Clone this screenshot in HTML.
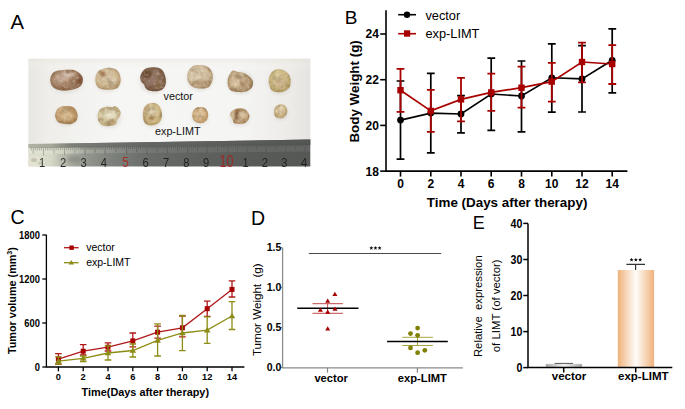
<!DOCTYPE html>
<html><head><meta charset="utf-8"><style>
html,body{margin:0;padding:0;background:#fff;}
svg{display:block;font-family:"Liberation Sans", sans-serif;}
</style></head><body>
<svg width="685" height="409" viewBox="0 0 685 409">
<rect width="685" height="409" fill="#fff"/>
<text x="10.5" y="29.4" font-size="20.3" fill="#000">A</text>
<defs>
<filter id="pb" x="-30%" y="-30%" width="160%" height="160%"><feGaussianBlur stdDeviation="0.55"/></filter>
<filter id="pb2" x="-50%" y="-50%" width="200%" height="200%"><feGaussianBlur stdDeviation="1.1"/></filter>
<filter id="sh" x="-30%" y="-30%" width="160%" height="160%"><feGaussianBlur stdDeviation="1.6"/></filter>
<linearGradient id="paper" x1="0" y1="0" x2="1" y2="0"><stop offset="0" stop-color="#e7e6e2"/><stop offset="0.07" stop-color="#efeeeb"/><stop offset="0.3" stop-color="#f6f6f4"/><stop offset="0.75" stop-color="#f5f5f3"/><stop offset="0.93" stop-color="#edebe8"/><stop offset="1" stop-color="#e5e2df"/></linearGradient>
<linearGradient id="paperv" x1="0" y1="0" x2="0" y2="1"><stop offset="0" stop-color="#e6e3da" stop-opacity="0.5"/><stop offset="0.15" stop-color="#fff" stop-opacity="0"/><stop offset="1" stop-color="#fff" stop-opacity="0"/></linearGradient>
<linearGradient id="rul" x1="0" y1="0" x2="1" y2="0"><stop offset="0" stop-color="#dcdccc"/><stop offset="0.08" stop-color="#d6d8c8"/><stop offset="0.11" stop-color="#c0c2b4"/><stop offset="0.15" stop-color="#a8ab9f"/><stop offset="0.2" stop-color="#94978e"/><stop offset="0.29" stop-color="#7e827c"/><stop offset="0.43" stop-color="#686b68"/><stop offset="0.61" stop-color="#5e615e"/><stop offset="0.82" stop-color="#585a58"/><stop offset="1" stop-color="#565856"/></linearGradient>
<linearGradient id="rulTop" x1="0" y1="0" x2="1" y2="0"><stop offset="0" stop-color="#b0b4a4"/><stop offset="0.08" stop-color="#a4a898"/><stop offset="0.15" stop-color="#7c8078"/><stop offset="0.2" stop-color="#767a74"/><stop offset="0.43" stop-color="#626562"/><stop offset="1" stop-color="#535653"/></linearGradient>
<linearGradient id="tickL" x1="0" y1="0" x2="1" y2="0"><stop offset="0" stop-color="#e4e6d6" stop-opacity="0.8"/><stop offset="0.12" stop-color="#dcdecc" stop-opacity="0.7"/><stop offset="0.22" stop-color="#c8cabc" stop-opacity="0.3"/><stop offset="0.35" stop-color="#fff" stop-opacity="0.08"/><stop offset="1" stop-color="#fff" stop-opacity="0.08"/></linearGradient>
<radialGradient id="tg0" cx="0.45" cy="0.42" r="0.62"><stop offset="0" stop-color="#c6a992"/><stop offset="0.55" stop-color="#ae8e74"/><stop offset="1" stop-color="#8a6447"/></radialGradient>
<clipPath id="tc0"><path d="M55.00,71.50C56.92,70.67 60.17,70.28 63.00,70.00C65.83,69.72 69.50,69.47 72.00,69.80C74.50,70.13 76.25,70.80 78.00,72.00C79.75,73.20 81.73,75.33 82.50,77.00C83.27,78.67 83.02,80.42 82.60,82.00C82.18,83.58 81.60,85.25 80.00,86.50C78.40,87.75 75.67,88.82 73.00,89.50C70.33,90.18 66.67,90.60 64.00,90.60C61.33,90.60 59.00,90.27 57.00,89.50C55.00,88.73 53.12,87.58 52.00,86.00C50.88,84.42 50.38,81.83 50.30,80.00C50.22,78.17 50.72,76.42 51.50,75.00C52.28,73.58 53.08,72.33 55.00,71.50Z"/></clipPath>
<radialGradient id="tg1" cx="0.45" cy="0.42" r="0.62"><stop offset="0" stop-color="#dfcfb1"/><stop offset="0.55" stop-color="#d2bd98"/><stop offset="1" stop-color="#b4976f"/></radialGradient>
<clipPath id="tc1"><path d="M100.00,70.00C101.75,68.98 104.67,68.15 107.00,67.90C109.33,67.65 112.08,67.82 114.00,68.50C115.92,69.18 117.40,70.42 118.50,72.00C119.60,73.58 120.35,76.00 120.60,78.00C120.85,80.00 120.68,82.25 120.00,84.00C119.32,85.75 118.33,87.53 116.50,88.50C114.67,89.47 111.58,89.72 109.00,89.80C106.42,89.88 103.00,89.63 101.00,89.00C99.00,88.37 97.95,87.50 97.00,86.00C96.05,84.50 95.38,82.00 95.30,80.00C95.22,78.00 95.72,75.67 96.50,74.00C97.28,72.33 98.25,71.02 100.00,70.00Z"/></clipPath>
<radialGradient id="tg2" cx="0.45" cy="0.42" r="0.62"><stop offset="0" stop-color="#9e8275"/><stop offset="0.55" stop-color="#8c6e5c"/><stop offset="1" stop-color="#6a4d38"/></radialGradient>
<clipPath id="tc2"><path d="M147.00,68.00C149.08,67.28 152.67,67.03 155.00,67.20C157.33,67.37 159.42,67.87 161.00,69.00C162.58,70.13 163.68,72.17 164.50,74.00C165.32,75.83 165.82,78.00 165.90,80.00C165.98,82.00 165.73,84.33 165.00,86.00C164.27,87.67 163.17,89.12 161.50,90.00C159.83,90.88 157.08,91.22 155.00,91.30C152.92,91.38 150.58,91.05 149.00,90.50C147.42,89.95 146.33,89.00 145.50,88.00C144.67,87.00 144.67,85.50 144.00,84.50C143.33,83.50 142.13,83.25 141.50,82.00C140.87,80.75 140.03,78.75 140.20,77.00C140.37,75.25 141.37,73.00 142.50,71.50C143.63,70.00 144.92,68.72 147.00,68.00Z"/></clipPath>
<radialGradient id="tg3" cx="0.45" cy="0.42" r="0.62"><stop offset="0" stop-color="#e2d3b9"/><stop offset="0.55" stop-color="#d3c0a2"/><stop offset="1" stop-color="#ae916d"/></radialGradient>
<clipPath id="tc3"><path d="M193.00,66.00C194.92,65.00 197.67,64.92 200.00,65.00C202.33,65.08 205.08,65.50 207.00,66.50C208.92,67.50 210.52,69.25 211.50,71.00C212.48,72.75 212.90,75.00 212.90,77.00C212.90,79.00 212.32,81.25 211.50,83.00C210.68,84.75 209.75,86.57 208.00,87.50C206.25,88.43 203.33,88.60 201.00,88.60C198.67,88.60 195.92,88.27 194.00,87.50C192.08,86.73 190.63,85.58 189.50,84.00C188.37,82.42 187.37,80.17 187.20,78.00C187.03,75.83 187.53,73.00 188.50,71.00C189.47,69.00 191.08,67.00 193.00,66.00Z"/></clipPath>
<radialGradient id="tg4" cx="0.45" cy="0.42" r="0.62"><stop offset="0" stop-color="#d8c6a4"/><stop offset="0.55" stop-color="#c8b08c"/><stop offset="1" stop-color="#9c7f5b"/></radialGradient>
<clipPath id="tc4"><path d="M233.00,70.60C234.42,70.18 236.17,71.60 238.00,72.00C239.83,72.40 242.08,72.25 244.00,73.00C245.92,73.75 248.00,75.00 249.50,76.50C251.00,78.00 252.67,80.08 253.00,82.00C253.33,83.92 252.67,86.42 251.50,88.00C250.33,89.58 248.25,90.82 246.00,91.50C243.75,92.18 240.50,92.27 238.00,92.10C235.50,91.93 232.67,91.52 231.00,90.50C229.33,89.48 228.55,87.75 228.00,86.00C227.45,84.25 227.45,81.92 227.70,80.00C227.95,78.08 228.62,76.07 229.50,74.50C230.38,72.93 231.58,71.02 233.00,70.60Z"/></clipPath>
<radialGradient id="tg5" cx="0.45" cy="0.42" r="0.62"><stop offset="0" stop-color="#dacb9e"/><stop offset="0.55" stop-color="#cfbc89"/><stop offset="1" stop-color="#ae9760"/></radialGradient>
<clipPath id="tc5"><path d="M274.00,70.50C275.42,69.72 277.17,69.22 279.00,69.30C280.83,69.38 283.25,69.88 285.00,71.00C286.75,72.12 288.55,74.17 289.50,76.00C290.45,77.83 290.78,80.00 290.70,82.00C290.62,84.00 290.12,86.42 289.00,88.00C287.88,89.58 285.83,90.78 284.00,91.50C282.17,92.22 280.00,92.47 278.00,92.30C276.00,92.13 273.42,91.55 272.00,90.50C270.58,89.45 270.05,87.75 269.50,86.00C268.95,84.25 268.53,82.00 268.70,80.00C268.87,78.00 269.62,75.58 270.50,74.00C271.38,72.42 272.58,71.28 274.00,70.50Z"/></clipPath>
<radialGradient id="tg6" cx="0.45" cy="0.42" r="0.62"><stop offset="0" stop-color="#dbc098"/><stop offset="0.55" stop-color="#cead80"/><stop offset="1" stop-color="#a67e50"/></radialGradient>
<clipPath id="tc6"><path d="M60.00,107.00C61.75,106.25 64.83,106.00 67.00,106.00C69.17,106.00 71.42,106.17 73.00,107.00C74.58,107.83 75.73,109.50 76.50,111.00C77.27,112.50 77.68,114.33 77.60,116.00C77.52,117.67 77.10,119.68 76.00,121.00C74.90,122.32 73.17,123.45 71.00,123.90C68.83,124.35 65.25,124.10 63.00,123.70C60.75,123.30 58.78,122.78 57.50,121.50C56.22,120.22 55.47,117.83 55.30,116.00C55.13,114.17 55.72,112.00 56.50,110.50C57.28,109.00 58.25,107.75 60.00,107.00Z"/></clipPath>
<radialGradient id="tg7" cx="0.45" cy="0.42" r="0.62"><stop offset="0" stop-color="#e6dcc1"/><stop offset="0.55" stop-color="#d8cba4"/><stop offset="1" stop-color="#b8a073"/></radialGradient>
<clipPath id="tc7"><path d="M102.00,108.00C103.50,107.25 106.33,106.58 108.00,106.50C109.67,106.42 110.83,107.58 112.00,107.50C113.17,107.42 114.00,105.92 115.00,106.00C116.00,106.08 117.07,107.00 118.00,108.00C118.93,109.00 120.35,110.50 120.60,112.00C120.85,113.50 120.10,115.67 119.50,117.00C118.90,118.33 117.58,118.83 117.00,120.00C116.42,121.17 117.17,122.98 116.00,124.00C114.83,125.02 112.17,125.85 110.00,126.10C107.83,126.35 104.83,126.18 103.00,125.50C101.17,124.82 99.90,123.58 99.00,122.00C98.10,120.42 97.60,117.83 97.60,116.00C97.60,114.17 98.27,112.33 99.00,111.00C99.73,109.67 100.50,108.75 102.00,108.00Z"/></clipPath>
<radialGradient id="tg8" cx="0.45" cy="0.42" r="0.62"><stop offset="0" stop-color="#e4d4b2"/><stop offset="0.55" stop-color="#d6c293"/><stop offset="1" stop-color="#b69b64"/></radialGradient>
<clipPath id="tc8"><path d="M147.00,104.50C148.33,103.68 150.33,103.18 152.00,103.10C153.67,103.02 155.58,103.18 157.00,104.00C158.42,104.82 159.68,106.33 160.50,108.00C161.32,109.67 161.82,112.00 161.90,114.00C161.98,116.00 161.82,118.33 161.00,120.00C160.18,121.67 158.67,123.13 157.00,124.00C155.33,124.87 152.83,125.20 151.00,125.20C149.17,125.20 147.25,124.87 146.00,124.00C144.75,123.13 144.02,121.83 143.50,120.00C142.98,118.17 142.82,115.00 142.90,113.00C142.98,111.00 143.32,109.42 144.00,108.00C144.68,106.58 145.67,105.32 147.00,104.50Z"/></clipPath>
<radialGradient id="tg9" cx="0.45" cy="0.42" r="0.62"><stop offset="0" stop-color="#e2c9a3"/><stop offset="0.55" stop-color="#d6b68a"/><stop offset="1" stop-color="#b68f5d"/></radialGradient>
<clipPath id="tc9"><path d="M196.00,108.00C197.08,107.43 198.50,107.07 200.00,107.10C201.50,107.13 203.72,107.38 205.00,108.20C206.28,109.02 207.18,110.70 207.70,112.00C208.22,113.30 208.30,114.58 208.10,116.00C207.90,117.42 207.52,119.33 206.50,120.50C205.48,121.67 203.58,122.67 202.00,123.00C200.42,123.33 198.42,123.00 197.00,122.50C195.58,122.00 194.30,121.25 193.50,120.00C192.70,118.75 192.20,116.58 192.20,115.00C192.20,113.42 192.87,111.67 193.50,110.50C194.13,109.33 194.92,108.57 196.00,108.00Z"/></clipPath>
<radialGradient id="tg10" cx="0.45" cy="0.42" r="0.62"><stop offset="0" stop-color="#dcc8a8"/><stop offset="0.55" stop-color="#d0b994"/><stop offset="1" stop-color="#a87e52"/></radialGradient>
<clipPath id="tc10"><path d="M236.00,109.00C237.58,108.45 239.33,108.03 241.00,108.20C242.67,108.37 244.63,108.87 246.00,110.00C247.37,111.13 248.78,113.42 249.20,115.00C249.62,116.58 249.20,118.17 248.50,119.50C247.80,120.83 246.58,122.27 245.00,123.00C243.42,123.73 240.83,123.90 239.00,123.90C237.17,123.90 235.08,123.82 234.00,123.00C232.92,122.18 233.13,120.33 232.50,119.00C231.87,117.67 230.37,116.25 230.20,115.00C230.03,113.75 230.53,112.50 231.50,111.50C232.47,110.50 234.42,109.55 236.00,109.00Z"/></clipPath>
<radialGradient id="tg11" cx="0.45" cy="0.42" r="0.62"><stop offset="0" stop-color="#e0ceac"/><stop offset="0.55" stop-color="#d6c197"/><stop offset="1" stop-color="#b69c6d"/></radialGradient>
<clipPath id="tc11"><path d="M277.00,105.50C278.00,104.98 279.67,104.40 281.00,104.40C282.33,104.40 283.97,104.57 285.00,105.50C286.03,106.43 286.95,108.50 287.20,110.00C287.45,111.50 287.20,113.17 286.50,114.50C285.80,115.83 284.42,117.40 283.00,118.00C281.58,118.60 279.33,118.43 278.00,118.10C276.67,117.77 275.67,117.10 275.00,116.00C274.33,114.90 274.00,112.92 274.00,111.50C274.00,110.08 274.50,108.50 275.00,107.50C275.50,106.50 276.00,106.02 277.00,105.50Z"/></clipPath>
</defs>
<rect x="28.4" y="58.7" width="281.9" height="86" fill="url(#paper)"/>
<rect x="28.4" y="58.7" width="281.9" height="86" fill="url(#paperv)"/>
<ellipse cx="66.4" cy="81.7" rx="17.1" ry="11.4" fill="#c8c4bc" opacity="0.35" filter="url(#sh)"/>
<ellipse cx="107.9" cy="80.3" rx="13.6" ry="11.9" fill="#c8c4bc" opacity="0.35" filter="url(#sh)"/>
<ellipse cx="153.1" cy="80.8" rx="13.9" ry="13.0" fill="#c8c4bc" opacity="0.35" filter="url(#sh)"/>
<ellipse cx="200.1" cy="78.3" rx="13.9" ry="12.8" fill="#c8c4bc" opacity="0.35" filter="url(#sh)"/>
<ellipse cx="240.3" cy="82.8" rx="13.7" ry="11.8" fill="#c8c4bc" opacity="0.35" filter="url(#sh)"/>
<ellipse cx="279.7" cy="82.3" rx="12.0" ry="12.5" fill="#c8c4bc" opacity="0.35" filter="url(#sh)"/>
<ellipse cx="66.4" cy="116.5" rx="12.1" ry="10.0" fill="#c8c4bc" opacity="0.35" filter="url(#sh)"/>
<ellipse cx="109.1" cy="117.5" rx="12.5" ry="11.0" fill="#c8c4bc" opacity="0.35" filter="url(#sh)"/>
<ellipse cx="152.4" cy="115.7" rx="10.5" ry="12.1" fill="#c8c4bc" opacity="0.35" filter="url(#sh)"/>
<ellipse cx="200.1" cy="116.5" rx="9.0" ry="9.0" fill="#c8c4bc" opacity="0.35" filter="url(#sh)"/>
<ellipse cx="239.7" cy="117.6" rx="10.5" ry="8.9" fill="#c8c4bc" opacity="0.35" filter="url(#sh)"/>
<ellipse cx="280.6" cy="112.8" rx="7.6" ry="7.8" fill="#c8c4bc" opacity="0.35" filter="url(#sh)"/>
<g filter="url(#pb)">
<path d="M55.00,71.50C56.92,70.67 60.17,70.28 63.00,70.00C65.83,69.72 69.50,69.47 72.00,69.80C74.50,70.13 76.25,70.80 78.00,72.00C79.75,73.20 81.73,75.33 82.50,77.00C83.27,78.67 83.02,80.42 82.60,82.00C82.18,83.58 81.60,85.25 80.00,86.50C78.40,87.75 75.67,88.82 73.00,89.50C70.33,90.18 66.67,90.60 64.00,90.60C61.33,90.60 59.00,90.27 57.00,89.50C55.00,88.73 53.12,87.58 52.00,86.00C50.88,84.42 50.38,81.83 50.30,80.00C50.22,78.17 50.72,76.42 51.50,75.00C52.28,73.58 53.08,72.33 55.00,71.50Z" fill="url(#tg0)"/>
<g clip-path="url(#tc0)">
<ellipse cx="61.4" cy="77.2" rx="6" ry="4" fill="#cdb3a1" opacity="0.7" filter="url(#pb2)"/>
<ellipse cx="71.4" cy="74.2" rx="3" ry="1.5" fill="#e4d1ca" opacity="0.7" filter="url(#pb2)"/>
<ellipse cx="78.4" cy="81.2" rx="3" ry="3.5" fill="#7a492e" opacity="0.55" filter="url(#pb2)"/>
<ellipse cx="62.4" cy="87.2" rx="5" ry="2" fill="#946748" opacity="0.5" filter="url(#pb2)"/>
<ellipse cx="69.4" cy="82.2" rx="4" ry="3" fill="#a87e63" opacity="0.4" filter="url(#pb2)"/>
<ellipse cx="65.4" cy="74.2" rx="2.5" ry="1.2" fill="#f4ece8" opacity="0.8" filter="url(#pb2)"/>
<ellipse cx="68.4" cy="75.2" rx="1.2" ry="1.5" fill="#f4ece8" opacity="0.7" filter="url(#pb2)"/>
<ellipse cx="79.4" cy="78.2" rx="2" ry="4" fill="#6a3e26" opacity="0.6" filter="url(#pb2)"/>
</g></g>
<g filter="url(#pb)">
<path d="M100.00,70.00C101.75,68.98 104.67,68.15 107.00,67.90C109.33,67.65 112.08,67.82 114.00,68.50C115.92,69.18 117.40,70.42 118.50,72.00C119.60,73.58 120.35,76.00 120.60,78.00C120.85,80.00 120.68,82.25 120.00,84.00C119.32,85.75 118.33,87.53 116.50,88.50C114.67,89.47 111.58,89.72 109.00,89.80C106.42,89.88 103.00,89.63 101.00,89.00C99.00,88.37 97.95,87.50 97.00,86.00C96.05,84.50 95.38,82.00 95.30,80.00C95.22,78.00 95.72,75.67 96.50,74.00C97.28,72.33 98.25,71.02 100.00,70.00Z" fill="url(#tg1)"/>
<g clip-path="url(#tc1)">
<ellipse cx="102.9" cy="73.8" rx="3" ry="2.5" fill="#a86a45" opacity="0.65" filter="url(#pb2)"/>
<ellipse cx="111.9" cy="80.8" rx="5" ry="4" fill="#e6d9c3" opacity="0.5" filter="url(#pb2)"/>
</g></g>
<g filter="url(#pb)">
<path d="M147.00,68.00C149.08,67.28 152.67,67.03 155.00,67.20C157.33,67.37 159.42,67.87 161.00,69.00C162.58,70.13 163.68,72.17 164.50,74.00C165.32,75.83 165.82,78.00 165.90,80.00C165.98,82.00 165.73,84.33 165.00,86.00C164.27,87.67 163.17,89.12 161.50,90.00C159.83,90.88 157.08,91.22 155.00,91.30C152.92,91.38 150.58,91.05 149.00,90.50C147.42,89.95 146.33,89.00 145.50,88.00C144.67,87.00 144.67,85.50 144.00,84.50C143.33,83.50 142.13,83.25 141.50,82.00C140.87,80.75 140.03,78.75 140.20,77.00C140.37,75.25 141.37,73.00 142.50,71.50C143.63,70.00 144.92,68.72 147.00,68.00Z" fill="url(#tg2)"/>
<g clip-path="url(#tc2)">
<ellipse cx="147.1" cy="74.2" rx="5" ry="4" fill="#5e3e26" opacity="0.75" filter="url(#pb2)"/>
<ellipse cx="159.1" cy="84.2" rx="5" ry="5" fill="#aa8c6e" opacity="0.55" filter="url(#pb2)"/>
<ellipse cx="152.1" cy="87.2" rx="3" ry="2" fill="#7a5842" opacity="0.5" filter="url(#pb2)"/>
</g></g>
<g filter="url(#pb)">
<path d="M193.00,66.00C194.92,65.00 197.67,64.92 200.00,65.00C202.33,65.08 205.08,65.50 207.00,66.50C208.92,67.50 210.52,69.25 211.50,71.00C212.48,72.75 212.90,75.00 212.90,77.00C212.90,79.00 212.32,81.25 211.50,83.00C210.68,84.75 209.75,86.57 208.00,87.50C206.25,88.43 203.33,88.60 201.00,88.60C198.67,88.60 195.92,88.27 194.00,87.50C192.08,86.73 190.63,85.58 189.50,84.00C188.37,82.42 187.37,80.17 187.20,78.00C187.03,75.83 187.53,73.00 188.50,71.00C189.47,69.00 191.08,67.00 193.00,66.00Z" fill="url(#tg3)"/>
<g clip-path="url(#tc3)">
<ellipse cx="201.1" cy="82.8" rx="8" ry="3" fill="#b08b6b" opacity="0.5" filter="url(#pb2)"/>
<ellipse cx="197.1" cy="73.8" rx="6" ry="4" fill="#e0cfb7" opacity="0.5" filter="url(#pb2)"/>
</g></g>
<g filter="url(#pb)">
<path d="M233.00,70.60C234.42,70.18 236.17,71.60 238.00,72.00C239.83,72.40 242.08,72.25 244.00,73.00C245.92,73.75 248.00,75.00 249.50,76.50C251.00,78.00 252.67,80.08 253.00,82.00C253.33,83.92 252.67,86.42 251.50,88.00C250.33,89.58 248.25,90.82 246.00,91.50C243.75,92.18 240.50,92.27 238.00,92.10C235.50,91.93 232.67,91.52 231.00,90.50C229.33,89.48 228.55,87.75 228.00,86.00C227.45,84.25 227.45,81.92 227.70,80.00C227.95,78.08 228.62,76.07 229.50,74.50C230.38,72.93 231.58,71.02 233.00,70.60Z" fill="url(#tg4)"/>
<g clip-path="url(#tc4)">
<ellipse cx="237.3" cy="81.3" rx="4" ry="5" fill="#d8c0a4" opacity="0.5" filter="url(#pb2)"/>
<ellipse cx="244.3" cy="84.3" rx="4" ry="3" fill="#a47f5b" opacity="0.45" filter="url(#pb2)"/>
<ellipse cx="234.3" cy="85.3" rx="4" ry="3" fill="#e0d5ac" opacity="0.5" filter="url(#pb2)"/>
<ellipse cx="241.3" cy="77.3" rx="2" ry="1.5" fill="#6a4028" opacity="0.5" filter="url(#pb2)"/>
<ellipse cx="247.3" cy="80.3" rx="1.5" ry="1.5" fill="#6a4028" opacity="0.5" filter="url(#pb2)"/>
<ellipse cx="237.3" cy="75.3" rx="2" ry="1.5" fill="#7a4a30" opacity="0.45" filter="url(#pb2)"/>
</g></g>
<g filter="url(#pb)">
<path d="M274.00,70.50C275.42,69.72 277.17,69.22 279.00,69.30C280.83,69.38 283.25,69.88 285.00,71.00C286.75,72.12 288.55,74.17 289.50,76.00C290.45,77.83 290.78,80.00 290.70,82.00C290.62,84.00 290.12,86.42 289.00,88.00C287.88,89.58 285.83,90.78 284.00,91.50C282.17,92.22 280.00,92.47 278.00,92.30C276.00,92.13 273.42,91.55 272.00,90.50C270.58,89.45 270.05,87.75 269.50,86.00C268.95,84.25 268.53,82.00 268.70,80.00C268.87,78.00 269.62,75.58 270.50,74.00C271.38,72.42 272.58,71.28 274.00,70.50Z" fill="url(#tg5)"/>
<g clip-path="url(#tc5)">
<ellipse cx="280.7" cy="83.8" rx="5" ry="4" fill="#c6a687" opacity="0.6" filter="url(#pb2)"/>
</g></g>
<g filter="url(#pb)">
<path d="M60.00,107.00C61.75,106.25 64.83,106.00 67.00,106.00C69.17,106.00 71.42,106.17 73.00,107.00C74.58,107.83 75.73,109.50 76.50,111.00C77.27,112.50 77.68,114.33 77.60,116.00C77.52,117.67 77.10,119.68 76.00,121.00C74.90,122.32 73.17,123.45 71.00,123.90C68.83,124.35 65.25,124.10 63.00,123.70C60.75,123.30 58.78,122.78 57.50,121.50C56.22,120.22 55.47,117.83 55.30,116.00C55.13,114.17 55.72,112.00 56.50,110.50C57.28,109.00 58.25,107.75 60.00,107.00Z" fill="url(#tg6)"/>
<g clip-path="url(#tc6)">
<ellipse cx="61.4" cy="113.0" rx="3" ry="1.5" fill="#9a6739" opacity="0.4" filter="url(#pb2)"/>
<ellipse cx="72.4" cy="111.0" rx="2" ry="3" fill="#9a6739" opacity="0.45" filter="url(#pb2)"/>
</g></g>
<g filter="url(#pb)">
<path d="M102.00,108.00C103.50,107.25 106.33,106.58 108.00,106.50C109.67,106.42 110.83,107.58 112.00,107.50C113.17,107.42 114.00,105.92 115.00,106.00C116.00,106.08 117.07,107.00 118.00,108.00C118.93,109.00 120.35,110.50 120.60,112.00C120.85,113.50 120.10,115.67 119.50,117.00C118.90,118.33 117.58,118.83 117.00,120.00C116.42,121.17 117.17,122.98 116.00,124.00C114.83,125.02 112.17,125.85 110.00,126.10C107.83,126.35 104.83,126.18 103.00,125.50C101.17,124.82 99.90,123.58 99.00,122.00C98.10,120.42 97.60,117.83 97.60,116.00C97.60,114.17 98.27,112.33 99.00,111.00C99.73,109.67 100.50,108.75 102.00,108.00Z" fill="url(#tg7)"/>
<g clip-path="url(#tc7)">
<ellipse cx="111.1" cy="115.0" rx="5" ry="4" fill="#eae5ce" opacity="0.6" filter="url(#pb2)"/>
<ellipse cx="111.1" cy="122.0" rx="4" ry="2" fill="#b08e62" opacity="0.5" filter="url(#pb2)"/>
</g></g>
<g filter="url(#pb)">
<path d="M147.00,104.50C148.33,103.68 150.33,103.18 152.00,103.10C153.67,103.02 155.58,103.18 157.00,104.00C158.42,104.82 159.68,106.33 160.50,108.00C161.32,109.67 161.82,112.00 161.90,114.00C161.98,116.00 161.82,118.33 161.00,120.00C160.18,121.67 158.67,123.13 157.00,124.00C155.33,124.87 152.83,125.20 151.00,125.20C149.17,125.20 147.25,124.87 146.00,124.00C144.75,123.13 144.02,121.83 143.50,120.00C142.98,118.17 142.82,115.00 142.90,113.00C142.98,111.00 143.32,109.42 144.00,108.00C144.68,106.58 145.67,105.32 147.00,104.50Z" fill="url(#tg8)"/>
<g clip-path="url(#tc8)">
<ellipse cx="151.4" cy="118.2" rx="3" ry="2.5" fill="#9c7043" opacity="0.7" filter="url(#pb2)"/>
<ellipse cx="152.4" cy="110.2" rx="4" ry="3" fill="#e8ddc3" opacity="0.5" filter="url(#pb2)"/>
</g></g>
<g filter="url(#pb)">
<path d="M196.00,108.00C197.08,107.43 198.50,107.07 200.00,107.10C201.50,107.13 203.72,107.38 205.00,108.20C206.28,109.02 207.18,110.70 207.70,112.00C208.22,113.30 208.30,114.58 208.10,116.00C207.90,117.42 207.52,119.33 206.50,120.50C205.48,121.67 203.58,122.67 202.00,123.00C200.42,123.33 198.42,123.00 197.00,122.50C195.58,122.00 194.30,121.25 193.50,120.00C192.70,118.75 192.20,116.58 192.20,115.00C192.20,113.42 192.87,111.67 193.50,110.50C194.13,109.33 194.92,108.57 196.00,108.00Z" fill="url(#tg9)"/>
<g clip-path="url(#tc9)">
</g></g>
<g filter="url(#pb)">
<path d="M236.00,109.00C237.58,108.45 239.33,108.03 241.00,108.20C242.67,108.37 244.63,108.87 246.00,110.00C247.37,111.13 248.78,113.42 249.20,115.00C249.62,116.58 249.20,118.17 248.50,119.50C247.80,120.83 246.58,122.27 245.00,123.00C243.42,123.73 240.83,123.90 239.00,123.90C237.17,123.90 235.08,123.82 234.00,123.00C232.92,122.18 233.13,120.33 232.50,119.00C231.87,117.67 230.37,116.25 230.20,115.00C230.03,113.75 230.53,112.50 231.50,111.50C232.47,110.50 234.42,109.55 236.00,109.00Z" fill="url(#tg10)"/>
<g clip-path="url(#tc10)">
<ellipse cx="236.7" cy="115.1" rx="1.8" ry="5" fill="#6a3d1a" opacity="0.8" filter="url(#pb2)"/>
<ellipse cx="238.7" cy="110.1" rx="4" ry="1.5" fill="#8a5729" opacity="0.6" filter="url(#pb2)"/>
</g></g>
<g filter="url(#pb)">
<path d="M277.00,105.50C278.00,104.98 279.67,104.40 281.00,104.40C282.33,104.40 283.97,104.57 285.00,105.50C286.03,106.43 286.95,108.50 287.20,110.00C287.45,111.50 287.20,113.17 286.50,114.50C285.80,115.83 284.42,117.40 283.00,118.00C281.58,118.60 279.33,118.43 278.00,118.10C276.67,117.77 275.67,117.10 275.00,116.00C274.33,114.90 274.00,112.92 274.00,111.50C274.00,110.08 274.50,108.50 275.00,107.50C275.50,106.50 276.00,106.02 277.00,105.50Z" fill="url(#tg11)"/>
<g clip-path="url(#tc11)">
</g></g>
<defs><clipPath id="allT"><path d="M55.00,71.50C56.92,70.67 60.17,70.28 63.00,70.00C65.83,69.72 69.50,69.47 72.00,69.80C74.50,70.13 76.25,70.80 78.00,72.00C79.75,73.20 81.73,75.33 82.50,77.00C83.27,78.67 83.02,80.42 82.60,82.00C82.18,83.58 81.60,85.25 80.00,86.50C78.40,87.75 75.67,88.82 73.00,89.50C70.33,90.18 66.67,90.60 64.00,90.60C61.33,90.60 59.00,90.27 57.00,89.50C55.00,88.73 53.12,87.58 52.00,86.00C50.88,84.42 50.38,81.83 50.30,80.00C50.22,78.17 50.72,76.42 51.50,75.00C52.28,73.58 53.08,72.33 55.00,71.50Z"/><path d="M100.00,70.00C101.75,68.98 104.67,68.15 107.00,67.90C109.33,67.65 112.08,67.82 114.00,68.50C115.92,69.18 117.40,70.42 118.50,72.00C119.60,73.58 120.35,76.00 120.60,78.00C120.85,80.00 120.68,82.25 120.00,84.00C119.32,85.75 118.33,87.53 116.50,88.50C114.67,89.47 111.58,89.72 109.00,89.80C106.42,89.88 103.00,89.63 101.00,89.00C99.00,88.37 97.95,87.50 97.00,86.00C96.05,84.50 95.38,82.00 95.30,80.00C95.22,78.00 95.72,75.67 96.50,74.00C97.28,72.33 98.25,71.02 100.00,70.00Z"/><path d="M147.00,68.00C149.08,67.28 152.67,67.03 155.00,67.20C157.33,67.37 159.42,67.87 161.00,69.00C162.58,70.13 163.68,72.17 164.50,74.00C165.32,75.83 165.82,78.00 165.90,80.00C165.98,82.00 165.73,84.33 165.00,86.00C164.27,87.67 163.17,89.12 161.50,90.00C159.83,90.88 157.08,91.22 155.00,91.30C152.92,91.38 150.58,91.05 149.00,90.50C147.42,89.95 146.33,89.00 145.50,88.00C144.67,87.00 144.67,85.50 144.00,84.50C143.33,83.50 142.13,83.25 141.50,82.00C140.87,80.75 140.03,78.75 140.20,77.00C140.37,75.25 141.37,73.00 142.50,71.50C143.63,70.00 144.92,68.72 147.00,68.00Z"/><path d="M193.00,66.00C194.92,65.00 197.67,64.92 200.00,65.00C202.33,65.08 205.08,65.50 207.00,66.50C208.92,67.50 210.52,69.25 211.50,71.00C212.48,72.75 212.90,75.00 212.90,77.00C212.90,79.00 212.32,81.25 211.50,83.00C210.68,84.75 209.75,86.57 208.00,87.50C206.25,88.43 203.33,88.60 201.00,88.60C198.67,88.60 195.92,88.27 194.00,87.50C192.08,86.73 190.63,85.58 189.50,84.00C188.37,82.42 187.37,80.17 187.20,78.00C187.03,75.83 187.53,73.00 188.50,71.00C189.47,69.00 191.08,67.00 193.00,66.00Z"/><path d="M233.00,70.60C234.42,70.18 236.17,71.60 238.00,72.00C239.83,72.40 242.08,72.25 244.00,73.00C245.92,73.75 248.00,75.00 249.50,76.50C251.00,78.00 252.67,80.08 253.00,82.00C253.33,83.92 252.67,86.42 251.50,88.00C250.33,89.58 248.25,90.82 246.00,91.50C243.75,92.18 240.50,92.27 238.00,92.10C235.50,91.93 232.67,91.52 231.00,90.50C229.33,89.48 228.55,87.75 228.00,86.00C227.45,84.25 227.45,81.92 227.70,80.00C227.95,78.08 228.62,76.07 229.50,74.50C230.38,72.93 231.58,71.02 233.00,70.60Z"/><path d="M274.00,70.50C275.42,69.72 277.17,69.22 279.00,69.30C280.83,69.38 283.25,69.88 285.00,71.00C286.75,72.12 288.55,74.17 289.50,76.00C290.45,77.83 290.78,80.00 290.70,82.00C290.62,84.00 290.12,86.42 289.00,88.00C287.88,89.58 285.83,90.78 284.00,91.50C282.17,92.22 280.00,92.47 278.00,92.30C276.00,92.13 273.42,91.55 272.00,90.50C270.58,89.45 270.05,87.75 269.50,86.00C268.95,84.25 268.53,82.00 268.70,80.00C268.87,78.00 269.62,75.58 270.50,74.00C271.38,72.42 272.58,71.28 274.00,70.50Z"/><path d="M60.00,107.00C61.75,106.25 64.83,106.00 67.00,106.00C69.17,106.00 71.42,106.17 73.00,107.00C74.58,107.83 75.73,109.50 76.50,111.00C77.27,112.50 77.68,114.33 77.60,116.00C77.52,117.67 77.10,119.68 76.00,121.00C74.90,122.32 73.17,123.45 71.00,123.90C68.83,124.35 65.25,124.10 63.00,123.70C60.75,123.30 58.78,122.78 57.50,121.50C56.22,120.22 55.47,117.83 55.30,116.00C55.13,114.17 55.72,112.00 56.50,110.50C57.28,109.00 58.25,107.75 60.00,107.00Z"/><path d="M102.00,108.00C103.50,107.25 106.33,106.58 108.00,106.50C109.67,106.42 110.83,107.58 112.00,107.50C113.17,107.42 114.00,105.92 115.00,106.00C116.00,106.08 117.07,107.00 118.00,108.00C118.93,109.00 120.35,110.50 120.60,112.00C120.85,113.50 120.10,115.67 119.50,117.00C118.90,118.33 117.58,118.83 117.00,120.00C116.42,121.17 117.17,122.98 116.00,124.00C114.83,125.02 112.17,125.85 110.00,126.10C107.83,126.35 104.83,126.18 103.00,125.50C101.17,124.82 99.90,123.58 99.00,122.00C98.10,120.42 97.60,117.83 97.60,116.00C97.60,114.17 98.27,112.33 99.00,111.00C99.73,109.67 100.50,108.75 102.00,108.00Z"/><path d="M147.00,104.50C148.33,103.68 150.33,103.18 152.00,103.10C153.67,103.02 155.58,103.18 157.00,104.00C158.42,104.82 159.68,106.33 160.50,108.00C161.32,109.67 161.82,112.00 161.90,114.00C161.98,116.00 161.82,118.33 161.00,120.00C160.18,121.67 158.67,123.13 157.00,124.00C155.33,124.87 152.83,125.20 151.00,125.20C149.17,125.20 147.25,124.87 146.00,124.00C144.75,123.13 144.02,121.83 143.50,120.00C142.98,118.17 142.82,115.00 142.90,113.00C142.98,111.00 143.32,109.42 144.00,108.00C144.68,106.58 145.67,105.32 147.00,104.50Z"/><path d="M196.00,108.00C197.08,107.43 198.50,107.07 200.00,107.10C201.50,107.13 203.72,107.38 205.00,108.20C206.28,109.02 207.18,110.70 207.70,112.00C208.22,113.30 208.30,114.58 208.10,116.00C207.90,117.42 207.52,119.33 206.50,120.50C205.48,121.67 203.58,122.67 202.00,123.00C200.42,123.33 198.42,123.00 197.00,122.50C195.58,122.00 194.30,121.25 193.50,120.00C192.70,118.75 192.20,116.58 192.20,115.00C192.20,113.42 192.87,111.67 193.50,110.50C194.13,109.33 194.92,108.57 196.00,108.00Z"/><path d="M236.00,109.00C237.58,108.45 239.33,108.03 241.00,108.20C242.67,108.37 244.63,108.87 246.00,110.00C247.37,111.13 248.78,113.42 249.20,115.00C249.62,116.58 249.20,118.17 248.50,119.50C247.80,120.83 246.58,122.27 245.00,123.00C243.42,123.73 240.83,123.90 239.00,123.90C237.17,123.90 235.08,123.82 234.00,123.00C232.92,122.18 233.13,120.33 232.50,119.00C231.87,117.67 230.37,116.25 230.20,115.00C230.03,113.75 230.53,112.50 231.50,111.50C232.47,110.50 234.42,109.55 236.00,109.00Z"/><path d="M277.00,105.50C278.00,104.98 279.67,104.40 281.00,104.40C282.33,104.40 283.97,104.57 285.00,105.50C286.03,106.43 286.95,108.50 287.20,110.00C287.45,111.50 287.20,113.17 286.50,114.50C285.80,115.83 284.42,117.40 283.00,118.00C281.58,118.60 279.33,118.43 278.00,118.10C276.67,117.77 275.67,117.10 275.00,116.00C274.33,114.90 274.00,112.92 274.00,111.50C274.00,110.08 274.50,108.50 275.00,107.50C275.50,106.50 276.00,106.02 277.00,105.50Z"/></clipPath>
<filter id="nz" x="0" y="0" width="100%" height="100%" color-interpolation-filters="sRGB"><feTurbulence type="fractalNoise" baseFrequency="0.16" numOctaves="2" seed="7"/><feColorMatrix type="matrix" values="0 0 0 0 0.40  0 0 0 0 0.29  0 0 0 0 0.14  2.1 0 0 0 -0.9"/><feGaussianBlur stdDeviation="0.6"/></filter>
<filter id="nz2" x="0" y="0" width="100%" height="100%" color-interpolation-filters="sRGB"><feTurbulence type="fractalNoise" baseFrequency="0.3" numOctaves="2" seed="21"/><feColorMatrix type="matrix" values="0 0 0 0 1  0 0 0 0 0.97  0 0 0 0 0.92  2.4 0 0 0 -1.35"/><feGaussianBlur stdDeviation="0.5"/></filter></defs>
<g clip-path="url(#allT)"><rect x="28" y="58" width="283" height="72" filter="url(#nz)" opacity="0.5"/><rect x="28" y="58" width="283" height="72" filter="url(#nz2)" opacity="0.5"/></g>
<path d="M28.4,143.9 L310.3,139.54 L310.3,166.6 L28.4,166.6 Z" fill="url(#rul)"/>
<path d="M28.4,143.9 L310.3,139.54 L310.3,145.0 L28.4,148.2 Z" fill="url(#rulTop)"/>
<path d="M28.4,148.2 L310.3,145.0 L310.3,151.5 L28.4,154 Z" fill="url(#tickL)"/>
<ellipse cx="36" cy="161" rx="8" ry="6" fill="#e8e6d6" opacity="0.7" filter="url(#pb2)"/>
<ellipse cx="34" cy="160" rx="3" ry="2" fill="#a8a890" opacity="0.5" filter="url(#pb)"/>
<ellipse cx="40" cy="163" rx="2.5" ry="1.5" fill="#b0b098" opacity="0.5" filter="url(#pb)"/>
<ellipse cx="74" cy="159.5" rx="7" ry="3.5" fill="#7a7d74" opacity="0.45" filter="url(#sh)"/>
<path d="M31.20,147.66v3 M33.25,147.62v6 M35.30,147.59v3 M37.35,147.56v3 M39.40,147.53v3 M41.45,147.50v3 M43.50,147.47v8 M45.60,147.43v3 M47.70,147.40v3 M49.80,147.37v3 M51.90,147.34v3 M54.00,147.30v6 M56.10,147.27v3 M58.20,147.24v3 M60.30,147.21v3 M62.40,147.17v3 M64.50,147.14v8 M66.55,147.11v3 M68.60,147.08v3 M70.65,147.05v3 M72.70,147.01v3 M74.75,146.98v6 M76.80,146.95v3 M78.85,146.92v3" stroke="#70746a" stroke-width="0.6" opacity="0.8"/>
<path d="M80.90,146.89v3 M82.95,146.86v3 M85.00,146.82v8 M87.01,146.79v3 M89.02,146.76v3 M91.03,146.73v3 M93.04,146.70v3 M95.05,146.67v6 M97.06,146.64v3 M99.07,146.61v3 M101.08,146.58v3 M103.09,146.54v3 M105.10,146.51v8 M107.25,146.48v3 M109.40,146.45v3 M111.55,146.41v3 M113.70,146.38v3 M115.85,146.35v6 M118.00,146.31v3 M120.15,146.28v3 M122.30,146.25v3 M124.45,146.21v3 M126.60,146.18v8 M128.62,146.15v3 M130.64,146.12v3 M132.66,146.09v3 M134.68,146.06v3 M136.70,146.02v6 M138.72,145.99v3 M140.74,145.96v3 M142.76,145.93v3 M144.78,145.90v3 M146.80,145.87v8 M148.86,145.84v3 M150.92,145.81v3 M152.98,145.77v3 M155.04,145.74v3 M157.10,145.71v6 M159.16,145.68v3 M161.22,145.65v3 M163.28,145.61v3 M165.34,145.58v3 M167.40,145.55v8 M169.43,145.52v3 M171.46,145.49v3 M173.49,145.46v3 M175.52,145.42v3 M177.55,145.39v6 M179.58,145.36v3 M181.61,145.33v3 M183.64,145.30v3 M185.67,145.27v3 M187.70,145.24v8 M189.66,145.21v3 M191.62,145.18v3 M193.58,145.15v3 M195.54,145.11v3 M197.50,145.08v6 M199.46,145.05v3 M201.42,145.02v3 M203.38,144.99v3 M205.34,144.96v3 M207.30,144.93v8 M209.35,144.90v3 M211.40,144.87v3 M213.45,144.84v3 M215.50,144.81v3 M217.55,144.77v6 M219.60,144.74v3 M221.65,144.71v3 M223.70,144.68v3 M225.75,144.65v3 M227.80,144.62v8 M229.72,144.59v3 M231.64,144.56v3 M233.56,144.53v3 M235.48,144.50v3 M237.40,144.47v6 M239.32,144.44v3 M241.24,144.41v3 M243.16,144.38v3 M245.08,144.35v3 M247.00,144.32v8 M248.91,144.29v3 M250.82,144.26v3 M252.73,144.23v3 M254.64,144.20v3 M256.55,144.17v6 M258.46,144.14v3 M260.37,144.11v3 M262.28,144.08v3 M264.19,144.05v3 M266.10,144.02v8 M268.05,143.99v3 M270.00,143.96v3 M271.95,143.93v3 M273.90,143.90v3 M275.85,143.87v6 M277.80,143.84v3 M279.75,143.81v3 M281.70,143.78v3 M283.65,143.75v3 M285.60,143.72v8 M287.57,143.69v3 M289.54,143.66v3 M291.51,143.63v3 M293.48,143.60v3 M295.45,143.57v6 M297.42,143.54v3 M299.39,143.51v3 M301.36,143.48v3 M303.33,143.45v3 M305.30,143.42v8 M307.27,143.39v3 M309.24,143.36v3" stroke="#4a4d4a" stroke-width="0.6" opacity="0.8"/>
<text x="42.2" y="166.6" font-size="12.7" fill="#1a1a1a" text-anchor="middle" opacity="0.9" transform="translate(42.2,0) scale(0.88,1) translate(-42.2,0)">1</text>
<text x="63.2" y="166.6" font-size="12.7" fill="#1a1a1a" text-anchor="middle" opacity="0.9" transform="translate(63.2,0) scale(0.88,1) translate(-63.2,0)">2</text>
<text x="83.7" y="166.6" font-size="12.7" fill="#1a1a1a" text-anchor="middle" opacity="0.9" transform="translate(83.7,0) scale(0.88,1) translate(-83.7,0)">3</text>
<text x="103.8" y="166.6" font-size="12.7" fill="#1a1a1a" text-anchor="middle" opacity="0.9" transform="translate(103.8,0) scale(0.88,1) translate(-103.8,0)">4</text>
<text x="125.3" y="166.6" font-size="14.4" fill="#a82c24" text-anchor="middle" opacity="0.9" transform="translate(125.3,0) scale(0.85,1) translate(-125.3,0)">5</text>
<text x="145.5" y="166.6" font-size="12.7" fill="#1a1a1a" text-anchor="middle" opacity="0.9" transform="translate(145.5,0) scale(0.88,1) translate(-145.5,0)">6</text>
<text x="166.1" y="166.6" font-size="12.7" fill="#1a1a1a" text-anchor="middle" opacity="0.9" transform="translate(166.1,0) scale(0.88,1) translate(-166.1,0)">7</text>
<text x="186.4" y="166.6" font-size="12.7" fill="#1a1a1a" text-anchor="middle" opacity="0.9" transform="translate(186.4,0) scale(0.88,1) translate(-186.4,0)">8</text>
<text x="206.0" y="166.6" font-size="12.7" fill="#1a1a1a" text-anchor="middle" opacity="0.9" transform="translate(206.0,0) scale(0.88,1) translate(-206.0,0)">9</text>
<text x="226.5" y="166.6" font-size="15.6" fill="#a02420" text-anchor="middle" opacity="0.9" transform="translate(226.5,0) scale(0.8,1) translate(-226.5,0)">10</text>
<text x="245.7" y="166.6" font-size="12.7" fill="#1a1a1a" text-anchor="middle" opacity="0.9" transform="translate(245.7,0) scale(0.88,1) translate(-245.7,0)">1</text>
<text x="264.8" y="166.6" font-size="12.7" fill="#1a1a1a" text-anchor="middle" opacity="0.9" transform="translate(264.8,0) scale(0.88,1) translate(-264.8,0)">2</text>
<text x="284.3" y="166.6" font-size="12.7" fill="#1a1a1a" text-anchor="middle" opacity="0.9" transform="translate(284.3,0) scale(0.88,1) translate(-284.3,0)">3</text>
<text x="304.0" y="166.6" font-size="12.7" fill="#1a1a1a" text-anchor="middle" opacity="0.9" transform="translate(304.0,0) scale(0.88,1) translate(-304.0,0)">4</text>
<text x="163.6" y="99.7" font-size="11.6" fill="#111" transform="translate(163.6,0) scale(0.93,1) translate(-163.6,0)">vector</text>
<text x="155" y="134.8" font-size="11.6" fill="#111" transform="translate(155,0) scale(0.93,1) translate(-155,0)">exp-LIMT</text>
<text x="344.8" y="24.2" font-size="19" fill="#000">B</text>
<path d="M386,10.3 V171.1 H627.4" fill="none" stroke="#000" stroke-width="1.6"/>
<path d="M380.2,171.1 H386" stroke="#000" stroke-width="1.6"/>
<text x="378.9" y="175.5" font-size="12" font-weight="bold" text-anchor="end">18</text>
<path d="M380.2,125.4 H386" stroke="#000" stroke-width="1.6"/>
<text x="378.9" y="129.8" font-size="12" font-weight="bold" text-anchor="end">20</text>
<path d="M380.2,79.7 H386" stroke="#000" stroke-width="1.6"/>
<text x="378.9" y="84.1" font-size="12" font-weight="bold" text-anchor="end">22</text>
<path d="M380.2,34.0 H386" stroke="#000" stroke-width="1.6"/>
<text x="378.9" y="38.4" font-size="12" font-weight="bold" text-anchor="end">24</text>
<path d="M400.5,171.1 V176.6" stroke="#000" stroke-width="1.6"/>
<text x="400.5" y="187.9" font-size="12" font-weight="bold" text-anchor="middle">0</text>
<path d="M430.8,171.1 V176.6" stroke="#000" stroke-width="1.6"/>
<text x="430.8" y="187.9" font-size="12" font-weight="bold" text-anchor="middle">2</text>
<path d="M461.0,171.1 V176.6" stroke="#000" stroke-width="1.6"/>
<text x="461.0" y="187.9" font-size="12" font-weight="bold" text-anchor="middle">4</text>
<path d="M491.2,171.1 V176.6" stroke="#000" stroke-width="1.6"/>
<text x="491.2" y="187.9" font-size="12" font-weight="bold" text-anchor="middle">6</text>
<path d="M521.5,171.1 V176.6" stroke="#000" stroke-width="1.6"/>
<text x="521.5" y="187.9" font-size="12" font-weight="bold" text-anchor="middle">8</text>
<path d="M551.8,171.1 V176.6" stroke="#000" stroke-width="1.6"/>
<text x="551.8" y="187.9" font-size="12" font-weight="bold" text-anchor="middle">10</text>
<path d="M582.0,171.1 V176.6" stroke="#000" stroke-width="1.6"/>
<text x="582.0" y="187.9" font-size="12" font-weight="bold" text-anchor="middle">12</text>
<path d="M612.2,171.1 V176.6" stroke="#000" stroke-width="1.6"/>
<text x="612.2" y="187.9" font-size="12" font-weight="bold" text-anchor="middle">14</text>
<text x="507.1" y="206.8" font-size="13.4" font-weight="bold" text-anchor="middle">Time (Days after therapy)</text>
<text transform="translate(359.4,91.4) rotate(-90)" font-size="13.4" font-weight="bold" text-anchor="middle">Body Weight (g)</text>
<path d="M400.5,81V159.2M396.6,81h7.8M396.6,159.2h7.8M430.8,73.4V152.8M426.9,73.4h7.8M426.9,152.8h7.8M461.0,95.6V132.8M457.1,95.6h7.8M457.1,132.8h7.8M491.2,58.1V130.3M487.4,58.1h7.8M487.4,130.3h7.8M521.5,61V131.9M517.6,61h7.8M517.6,131.9h7.8M551.8,43.8V112.2M547.9,43.8h7.8M547.9,112.2h7.8M582.0,45.7V112M578.1,45.7h7.8M578.1,112h7.8M612.2,28.8V92.9M608.4,28.8h7.8M608.4,92.9h7.8" stroke="#000" stroke-width="1.7" fill="none"/>
<polyline points="400.5,120.1 430.8,113.1 461.0,114 491.2,94 521.5,96 551.8,77.8 582.0,78.9 612.2,60.3" fill="none" stroke="#000" stroke-width="1.6"/>
<circle cx="400.5" cy="120.1" r="3.4" fill="#000"/>
<circle cx="430.8" cy="113.1" r="3.4" fill="#000"/>
<circle cx="461.0" cy="114" r="3.4" fill="#000"/>
<circle cx="491.2" cy="94" r="3.4" fill="#000"/>
<circle cx="521.5" cy="96" r="3.4" fill="#000"/>
<circle cx="551.8" cy="77.8" r="3.4" fill="#000"/>
<circle cx="582.0" cy="78.9" r="3.4" fill="#000"/>
<circle cx="612.2" cy="60.3" r="3.4" fill="#000"/>
<path d="M400.5,68.9V111.8M396.6,68.9h7.8M396.6,111.8h7.8M430.8,89.9V131.9M426.9,89.9h7.8M426.9,131.9h7.8M461.0,77.8V121.4M457.1,77.8h7.8M457.1,121.4h7.8M491.2,73.7V110.9M487.4,73.7h7.8M487.4,110.9h7.8M521.5,66.7V107.7M517.6,66.7h7.8M517.6,107.7h7.8M551.8,62.9V101.7M547.9,62.9h7.8M547.9,101.7h7.8M582.0,42.7V82.3M578.1,42.7h7.8M578.1,82.3h7.8M612.2,45.2V84M608.4,45.2h7.8M608.4,84h7.8" stroke="#a80000" stroke-width="1.8" fill="none"/>
<polyline points="400.5,90.2 430.8,110.9 461.0,99.4 491.2,92.4 521.5,87.7 551.8,81.6 582.0,62 612.2,64" fill="none" stroke="#a80000" stroke-width="1.7"/>
<rect x="397.3" y="87.0" width="6.4" height="6.4" fill="#a80000"/>
<rect x="427.6" y="107.7" width="6.4" height="6.4" fill="#a80000"/>
<rect x="457.8" y="96.2" width="6.4" height="6.4" fill="#a80000"/>
<rect x="488.1" y="89.2" width="6.4" height="6.4" fill="#a80000"/>
<rect x="518.3" y="84.5" width="6.4" height="6.4" fill="#a80000"/>
<rect x="548.5" y="78.4" width="6.4" height="6.4" fill="#a80000"/>
<rect x="578.8" y="58.8" width="6.4" height="6.4" fill="#a80000"/>
<rect x="609.0" y="60.8" width="6.4" height="6.4" fill="#a80000"/>
<path d="M398.2,14.7 H416" stroke="#000" stroke-width="1.6"/><circle cx="407" cy="14.7" r="3.2" fill="#000"/>
<path d="M398.2,33.7 H416" stroke="#a80000" stroke-width="1.6"/><rect x="404" y="30.3" width="6.2" height="6.4" fill="#a80000"/>
<text x="425.4" y="19.5" font-size="12.8">vector</text>
<text x="425.4" y="37.9" font-size="12.8">exp-LIMT</text>
<text x="10.6" y="223.6" font-size="19.5" fill="#000">C</text>
<path d="M46.4,234.8 V367 H244.4" fill="none" stroke="#000" stroke-width="1.3"/>
<path d="M42.3,367.0 H46.4" stroke="#000" stroke-width="1.3"/>
<text x="40" y="370.7" font-size="10.1" font-weight="bold" text-anchor="end" transform="translate(40,0) scale(0.93,1) translate(-40,0)">0</text>
<path d="M42.3,323.0 H46.4" stroke="#000" stroke-width="1.3"/>
<text x="40" y="326.7" font-size="10.1" font-weight="bold" text-anchor="end" transform="translate(40,0) scale(0.93,1) translate(-40,0)">600</text>
<path d="M42.3,279.0 H46.4" stroke="#000" stroke-width="1.3"/>
<text x="40" y="282.7" font-size="10.1" font-weight="bold" text-anchor="end" transform="translate(40,0) scale(0.93,1) translate(-40,0)">1200</text>
<path d="M42.3,235.0 H46.4" stroke="#000" stroke-width="1.3"/>
<text x="40" y="238.7" font-size="10.1" font-weight="bold" text-anchor="end" transform="translate(40,0) scale(0.93,1) translate(-40,0)">1800</text>
<path d="M58.4,367 V371.3" stroke="#000" stroke-width="1.3"/>
<text x="58.4" y="380.4" font-size="9.8" font-weight="bold" text-anchor="middle" transform="translate(58.4,0) scale(0.95,1) translate(-58.4,0)">0</text>
<path d="M83.2,367 V371.3" stroke="#000" stroke-width="1.3"/>
<text x="83.2" y="380.4" font-size="9.8" font-weight="bold" text-anchor="middle" transform="translate(83.2,0) scale(0.95,1) translate(-83.2,0)">2</text>
<path d="M108.0,367 V371.3" stroke="#000" stroke-width="1.3"/>
<text x="108.0" y="380.4" font-size="9.8" font-weight="bold" text-anchor="middle" transform="translate(108.0,0) scale(0.95,1) translate(-108.0,0)">4</text>
<path d="M132.8,367 V371.3" stroke="#000" stroke-width="1.3"/>
<text x="132.8" y="380.4" font-size="9.8" font-weight="bold" text-anchor="middle" transform="translate(132.8,0) scale(0.95,1) translate(-132.8,0)">6</text>
<path d="M157.6,367 V371.3" stroke="#000" stroke-width="1.3"/>
<text x="157.6" y="380.4" font-size="9.8" font-weight="bold" text-anchor="middle" transform="translate(157.6,0) scale(0.95,1) translate(-157.6,0)">8</text>
<path d="M182.4,367 V371.3" stroke="#000" stroke-width="1.3"/>
<text x="182.4" y="380.4" font-size="9.8" font-weight="bold" text-anchor="middle" transform="translate(182.4,0) scale(0.95,1) translate(-182.4,0)">10</text>
<path d="M207.2,367 V371.3" stroke="#000" stroke-width="1.3"/>
<text x="207.2" y="380.4" font-size="9.8" font-weight="bold" text-anchor="middle" transform="translate(207.2,0) scale(0.95,1) translate(-207.2,0)">12</text>
<path d="M232.0,367 V371.3" stroke="#000" stroke-width="1.3"/>
<text x="232.0" y="380.4" font-size="9.8" font-weight="bold" text-anchor="middle" transform="translate(232.0,0) scale(0.95,1) translate(-232.0,0)">14</text>
<text x="145.3" y="395.5" font-size="10.9" font-weight="bold" text-anchor="middle">Time(Days after therapy)</text>
<text transform="translate(16.0,300.6) rotate(-90)" font-size="10.8" font-weight="bold" text-anchor="middle">Tumor volume (mm<tspan dy="-4" font-size="7">3</tspan><tspan dy="4">)</tspan></text>
<path d="M58.4,353.6V364.2M55.1,353.6h6.6M55.1,364.2h6.6M83.2,344.6V355M79.9,344.6h6.6M79.9,355h6.6M108.0,342.8V351M104.7,342.8h6.6M104.7,351h6.6M132.8,333V346.8M129.5,333h6.6M129.5,346.8h6.6M157.6,326.2V338.2M154.3,326.2h6.6M154.3,338.2h6.6M182.4,316V336.9M179.1,316h6.6M179.1,336.9h6.6M207.2,301.1V316.3M203.9,301.1h6.6M203.9,316.3h6.6M232.0,280.9V297M228.7,280.9h6.6M228.7,297h6.6" stroke="#b01818" stroke-width="1.3" fill="none"/>
<polyline points="58.4,359.1 83.2,351.2 108.0,347.2 132.8,340.9 157.6,332.2 182.4,327.8 207.2,308.7 232.0,289.4" fill="none" stroke="#b01818" stroke-width="1.3"/>
<rect x="55.9" y="356.6" width="5" height="5" fill="#a80000"/>
<rect x="80.7" y="348.7" width="5" height="5" fill="#a80000"/>
<rect x="105.5" y="344.7" width="5" height="5" fill="#a80000"/>
<rect x="130.3" y="338.4" width="5" height="5" fill="#a80000"/>
<rect x="155.1" y="329.7" width="5" height="5" fill="#a80000"/>
<rect x="179.9" y="325.3" width="5" height="5" fill="#a80000"/>
<rect x="204.7" y="306.2" width="5" height="5" fill="#a80000"/>
<rect x="229.5" y="286.9" width="5" height="5" fill="#a80000"/>
<path d="M58.4,356.9V364.2M55.1,356.9h6.6M55.1,364.2h6.6M83.2,356V361.5M79.9,356h6.6M79.9,361.5h6.6M108.0,345.9V360M104.7,345.9h6.6M104.7,360h6.6M132.8,344V357M129.5,344h6.6M129.5,357h6.6M157.6,323.9V356M154.3,323.9h6.6M154.3,356h6.6M182.4,315.5V350.6M179.1,315.5h6.6M179.1,350.6h6.6M207.2,316.9V343.3M203.9,316.9h6.6M203.9,343.3h6.6M232.0,301.7V329.5M228.7,301.7h6.6M228.7,329.5h6.6" stroke="#8c8c14" stroke-width="1.3" fill="none"/>
<polyline points="58.4,361.1 83.2,358.3 108.0,353 132.8,350.5 157.6,340.4 182.4,333 207.2,330.1 232.0,316" fill="none" stroke="#8c8c14" stroke-width="1.3"/>
<path d="M58.4,358.1 L61.7,363.4 L55.1,363.4Z" fill="#8c8c14"/>
<path d="M83.2,355.3 L86.5,360.6 L79.9,360.6Z" fill="#8c8c14"/>
<path d="M108.0,350.0 L111.3,355.3 L104.7,355.3Z" fill="#8c8c14"/>
<path d="M132.8,347.5 L136.1,352.8 L129.5,352.8Z" fill="#8c8c14"/>
<path d="M157.6,337.4 L160.9,342.7 L154.3,342.7Z" fill="#8c8c14"/>
<path d="M182.4,330.0 L185.7,335.3 L179.1,335.3Z" fill="#8c8c14"/>
<path d="M207.2,327.1 L210.5,332.4 L203.9,332.4Z" fill="#8c8c14"/>
<path d="M232.0,313.0 L235.3,318.3 L228.7,318.3Z" fill="#8c8c14"/>
<path d="M64,247.7 H78.6" stroke="#b01818" stroke-width="1.3"/><rect x="69.4" y="245.5" width="4.4" height="4.4" fill="#a80000"/>
<path d="M64,262.7 H78.6" stroke="#8c8c14" stroke-width="1.3"/><path d="M71.3,259.9 L74,264.4 L68.6,264.4Z" fill="#8c8c14"/>
<text x="86.2" y="251.2" font-size="10.5">vector</text>
<text x="86.2" y="266.4" font-size="10.5">exp-LIMT</text>
<text x="251" y="225.2" font-size="19.5" fill="#000">D</text>
<path d="M282.6,247.7 V367.8 H462.9" fill="none" stroke="#8a8a8a" stroke-width="1.25"/>
<path d="M280.6,367.4 H282.6" stroke="#8a8a8a" stroke-width="1.1"/>
<text x="281.3" y="371.1" font-size="10.5" font-weight="bold" text-anchor="end">0.0</text>
<path d="M280.6,327.5 H282.6" stroke="#8a8a8a" stroke-width="1.1"/>
<text x="281.3" y="331.2" font-size="10.5" font-weight="bold" text-anchor="end">0.5</text>
<path d="M280.6,287.6 H282.6" stroke="#8a8a8a" stroke-width="1.1"/>
<text x="281.3" y="291.3" font-size="10.5" font-weight="bold" text-anchor="end">1.0</text>
<path d="M280.6,247.7 H282.6" stroke="#8a8a8a" stroke-width="1.1"/>
<text x="281.3" y="251.4" font-size="10.5" font-weight="bold" text-anchor="end">1.5</text>
<path d="M327.5,367.8 V372.7" stroke="#8a8a8a" stroke-width="1.2"/>
<path d="M417.4,367.8 V372.7" stroke="#8a8a8a" stroke-width="1.2"/>
<text x="331.2" y="381.8" font-size="11.2" font-weight="bold" text-anchor="middle">vector</text>
<text x="422.4" y="381.8" font-size="11.2" font-weight="bold" text-anchor="middle">exp-LIMT</text>
<path d="M308.8,253.5 H441.2" stroke="#4a4a4a" stroke-width="1.1"/>
<path d="M371.30,245.95 L371.86,247.23 L373.25,247.37 L372.20,248.29 L372.50,249.66 L371.30,248.95 L370.10,249.66 L370.40,248.29 L369.35,247.37 L370.74,247.23ZM375.45,245.95 L376.01,247.23 L377.40,247.37 L376.35,248.29 L376.65,249.66 L375.45,248.95 L374.25,249.66 L374.55,248.29 L373.50,247.37 L374.89,247.23ZM379.60,245.95 L380.16,247.23 L381.55,247.37 L380.50,248.29 L380.80,249.66 L379.60,248.95 L378.40,249.66 L378.70,248.29 L377.65,247.37 L379.04,247.23Z" fill="#111"/>
<text transform="translate(260.8,309.7) rotate(-90)" font-size="11.6" text-anchor="middle" xml:space="preserve">Tumor Weight  (g)</text>
<path d="M312.5,303.7 H342.9 M312.5,313.3 H342.9 M327.6,303.7 V313.3" stroke="#c04848" stroke-width="1"/>
<path d="M297.2,308.2 H358.5" stroke="#000" stroke-width="1.6"/>
<path d="M334.9,291.8 L337.4,296.1 L332.4,296.1Z" fill="#a80000"/>
<path d="M327.7,298.5 L330.2,302.8 L325.2,302.8Z" fill="#a80000"/>
<path d="M320.4,307.4 L322.9,311.7 L317.9,311.7Z" fill="#a80000"/>
<path d="M335,306.4 L337.5,310.7 L332.5,310.7Z" fill="#a80000"/>
<path d="M327.7,309.5 L330.2,313.8 L325.2,313.8Z" fill="#a80000"/>
<path d="M327.7,326.2 L330.2,330.5 L325.2,330.5Z" fill="#a80000"/>
<path d="M402.3,337.3 H432.9 M402.3,345.5 H432.9 M417.5,337.3 V345.5" stroke="#a8a440" stroke-width="1"/>
<path d="M387.1,341.5 H447.8" stroke="#000" stroke-width="1.6"/>
<circle cx="417.6" cy="328.1" r="2.4" fill="#808000"/>
<circle cx="410.5" cy="333.6" r="2.4" fill="#808000"/>
<circle cx="417.6" cy="335.3" r="2.4" fill="#808000"/>
<circle cx="410.5" cy="347.9" r="2.4" fill="#808000"/>
<circle cx="424.8" cy="350.3" r="2.4" fill="#808000"/>
<circle cx="417.6" cy="352.7" r="2.4" fill="#808000"/>
<text x="472.8" y="229.4" font-size="18" fill="#000">E</text>
<defs><linearGradient id="og" x1="0" y1="0" x2="1" y2="0"><stop offset="0" stop-color="#efb27c"/><stop offset="0.5" stop-color="#fffdfa"/><stop offset="1" stop-color="#efb27c"/></linearGradient>
<linearGradient id="gg" x1="0" y1="0" x2="1" y2="0"><stop offset="0" stop-color="#a8a8a8"/><stop offset="0.5" stop-color="#f4f4f4"/><stop offset="1" stop-color="#a8a8a8"/></linearGradient></defs>
<rect x="617.8" y="270" width="36.3" height="97.6" fill="url(#og)"/>
<rect x="545.8" y="363.9" width="36.3" height="3.7" fill="url(#gg)"/>
<path d="M626.4,264.4 H645 M635.6,264.4 V270" stroke="#333" stroke-width="1.2"/>
<path d="M554.6,363.4 H573" stroke="#555" stroke-width="1"/>
<path d="M631.55,257.75 L632.11,259.03 L633.50,259.17 L632.45,260.09 L632.75,261.46 L631.55,260.75 L630.35,261.46 L630.65,260.09 L629.60,259.17 L630.99,259.03ZM635.85,257.75 L636.41,259.03 L637.80,259.17 L636.75,260.09 L637.05,261.46 L635.85,260.75 L634.65,261.46 L634.95,260.09 L633.90,259.17 L635.29,259.03ZM640.15,257.75 L640.71,259.03 L642.10,259.17 L641.05,260.09 L641.35,261.46 L640.15,260.75 L638.95,261.46 L639.25,260.09 L638.20,259.17 L639.59,259.03Z" fill="#111"/>
<path d="M528,223.4 V367.6 H672.3" fill="none" stroke="#000" stroke-width="1.5"/>
<path d="M523.3,367.6 H528" stroke="#000" stroke-width="1.5"/>
<text x="522.4" y="371.9" font-size="12" font-weight="bold" text-anchor="end" transform="translate(522.4,0) scale(0.89,1) translate(-522.4,0)">0</text>
<path d="M523.3,331.6 H528" stroke="#000" stroke-width="1.5"/>
<text x="522.4" y="335.9" font-size="12" font-weight="bold" text-anchor="end" transform="translate(522.4,0) scale(0.89,1) translate(-522.4,0)">10</text>
<path d="M523.3,295.5 H528" stroke="#000" stroke-width="1.5"/>
<text x="522.4" y="299.8" font-size="12" font-weight="bold" text-anchor="end" transform="translate(522.4,0) scale(0.89,1) translate(-522.4,0)">20</text>
<path d="M523.3,259.5 H528" stroke="#000" stroke-width="1.5"/>
<text x="522.4" y="263.8" font-size="12" font-weight="bold" text-anchor="end" transform="translate(522.4,0) scale(0.89,1) translate(-522.4,0)">30</text>
<path d="M523.3,223.4 H528" stroke="#000" stroke-width="1.5"/>
<text x="522.4" y="227.7" font-size="12" font-weight="bold" text-anchor="end" transform="translate(522.4,0) scale(0.89,1) translate(-522.4,0)">40</text>
<path d="M563.7,367.6 V372.5" stroke="#000" stroke-width="1.5"/>
<path d="M635.7,367.6 V372.5" stroke="#000" stroke-width="1.5"/>
<text x="569" y="379.5" font-size="11.5" font-weight="bold" text-anchor="middle">vector</text>
<text x="643.3" y="379.5" font-size="11.5" font-weight="bold" text-anchor="middle">exp-LIMT</text>
<text transform="translate(481.9,306.2) rotate(-90)" font-size="11.3" text-anchor="middle" xml:space="preserve">Relative  expression</text>
<text transform="translate(499.8,305.8) rotate(-90)" font-size="11.4" text-anchor="middle">of LIMT (of vector)</text>
</svg>
</body></html>
